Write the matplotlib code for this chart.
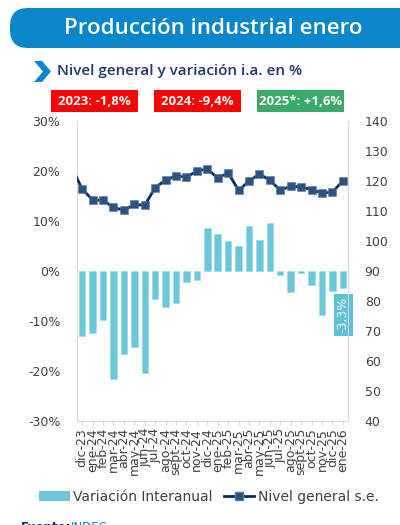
import matplotlib
matplotlib.use('Agg')
import matplotlib.pyplot as plt
from matplotlib.patches import FancyBboxPatch, Patch, Rectangle, Polygon
from matplotlib.lines import Line2D

### data
meses = ['dic-23', 'ene-24', 'feb-24', 'mar-24', 'abr-24', 'may-24', 'jun-24',
         'jul-24', 'ago-24', 'sept-24', 'oct-24', 'nov-24', 'dic-24', 'ene-25',
         'feb-25', 'mar-25', 'abr-25', 'may-25', 'jun-25', 'jul-25', 'ago-25',
         'sept-25', 'oct-25', 'nov-25', 'dic-25', 'ene-26']
variacion = [-13.0, -12.3, -9.8, -21.5, -16.6, -15.1, -20.3, -5.6, -7.1, -6.3,
             -2.1, -1.7, 8.7, 7.5, 6.0, 5.1, 9.1, 6.3, 9.7, -0.7, -4.1, -0.3,
             -2.7, -8.7, -3.9, -3.3]
nivel = [117.3, 113.7, 113.6, 111.2, 110.2, 112.2, 111.9, 117.8, 120.3, 121.7,
         121.3, 123.3, 124.0, 121.0, 122.7, 116.9, 119.9, 122.4, 120.2, 117.0,
         118.2, 118.1, 117.1, 116.0, 116.3, 120.0]
nivel_previo = 124.5   # nov-23, only the line coming in from the left edge
anuales = ['2023: -1,8%', '2024: -9,4%', '2025*: +1,6%']
colores_anuales = ['#ff0000', '#ff0000', '#3aaa6b']
etiqueta_ultimo = '-3,3%'

azul = '#0a86cb'
navy = '#0c2a5e'
celeste = '#6ac7db'
gris = '#404040'

fig = plt.figure(figsize=(4, 5.25), dpi=100)

# overlay in pixel units for the header decorations
deco = fig.add_axes([0, 0, 1, 1])
deco.set_xlim(0, 400)
deco.set_ylim(525, 0)
deco.axis('off')

### title banner
deco.add_patch(FancyBboxPatch((10, 8), 420, 40,
                              boxstyle='round,pad=0,rounding_size=18',
                              facecolor=azul, edgecolor='none'))
deco.text(213, 28, 'Producción industrial enero', color='white',
          fontsize=16, family='Open Sans', weight='semibold',
          ha='center', va='center')

### subtitle with chevron
deco.add_patch(Polygon([(34, 61), (42, 61), (51, 71.5), (42, 82), (34, 82),
                        (43, 71.5)], closed=True, facecolor=azul,
                       edgecolor='none'))
deco.text(57, 71, 'Nivel general y variación i.a. en %',
          color='#1f3864', fontsize=11, family='Open Sans', weight='semibold',
          ha='left', va='center')

### yearly boxes
for i, (txt, col) in enumerate(zip(anuales, colores_anuales)):
    x0 = 51 + i * 103
    deco.add_patch(Rectangle((x0, 90), 87, 22, facecolor=col,
                             edgecolor='none'))
    deco.text(x0 + 43.5, 101.5, txt, color='white', fontsize=9.5,
              family='Open Sans', weight='bold', ha='center', va='center')

### source (cut at the bottom edge)
deco.text(21, 521, 'Fuente:', color=navy, fontsize=8.5,
          weight='bold', ha='left', va='top')
deco.text(71, 521, 'INDEC', color=azul, fontsize=8.5,
          ha='left', va='top')

### main chart
ax = fig.add_axes([77 / 400, 104 / 525, 271 / 400, 300 / 525])
x = list(range(len(meses)))
ax.bar(x, variacion, width=0.62, color=celeste, edgecolor='#9adbe8',
       linewidth=0.5, zorder=2)
ax.set_ylim(-30, 30)
ax.set_yticks([-30, -20, -10, 0, 10, 20, 30])
ax.set_yticklabels(['-30%', '-20%', '-10%', '0%', '10%', '20%', '30%'])
ax.set_xlim(-0.5, len(meses) - 0.5)
ax.set_xticks(x)
ax.set_xticklabels(meses, rotation=90)
ax.tick_params(axis='y', length=0, pad=12, labelsize=9, labelcolor=gris)
ax.tick_params(axis='x', length=3, color='#d9d9d9', pad=2, labelsize=9,
               labelcolor=gris)
for side in ['left', 'right', 'bottom']:
    ax.spines[side].set_color('#d9d9d9')
ax.spines['top'].set_visible(False)

ax2 = ax.twinx()
ax2.plot([-1] + x, [nivel_previo] + nivel, color=navy, linewidth=2,
         marker='s', markersize=5.5, markerfacecolor='#2a5282',
         markeredgecolor='#5a7aa0', markeredgewidth=0.4,
         markevery=list(range(1, len(nivel) + 1)), zorder=3)
ax2.set_ylim(40, 140)
ax2.set_yticks(range(40, 141, 10))
ax2.tick_params(axis='y', length=0, pad=12, labelsize=9, labelcolor=gris)
for side in ['top', 'left', 'bottom']:
    ax2.spines[side].set_visible(False)
ax2.spines['right'].set_color('#d9d9d9')

### label of the last bar
ax.text(x[-1] + 0.05, -8.8, etiqueta_ultimo, rotation=90, color='white',
        fontsize=9, ha='center', va='center', zorder=5,
        bbox=dict(boxstyle='square,pad=0.25', facecolor='#5cc2d8',
                  edgecolor='none'))

### legend
handles = [Patch(facecolor=celeste, edgecolor='none'),
           Line2D([], [], color=navy, linewidth=2, marker='s', markersize=5.5,
                  markerfacecolor='#2a5282', markeredgecolor='#5a7aa0')]
fig.legend(handles, ['Variación Interanual', 'Nivel general s.e.'],
           loc='center', bbox_to_anchor=(209 / 400, 1 - 497 / 525), ncol=2,
           frameon=False, fontsize=10, handlelength=2.2, handletextpad=0.25,
           columnspacing=0.8, labelcolor=gris)

fig.savefig('out.png', dpi=100)
